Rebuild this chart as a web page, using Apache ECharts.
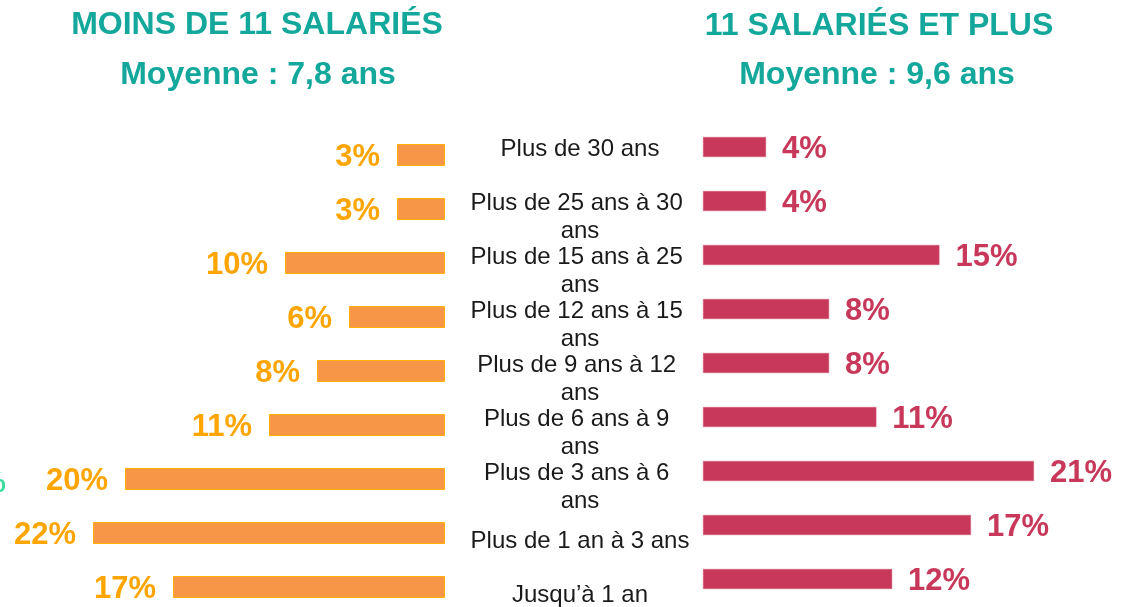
<!DOCTYPE html>
<html>
<head>
<meta charset="utf-8">
<script src="https://cdn.jsdelivr.net/npm/echarts@6/dist/echarts.min.js"></script>
<style>
  html, body { margin: 0; padding: 0; background: #fff; }
  #chart { width: 1142px; height: 607px; }
</style>
</head>
<body>
<div id="chart"></div>
<script>
// tranches d'ancienneté, du haut vers le bas
var categories = [
  "Plus de 30 ans",
  "Plus de 25 ans à 30 ans",
  "Plus de 15 ans à 25 ans",
  "Plus de 12 ans à 15 ans",
  "Plus de 9 ans à 12 ans",
  "Plus de 6 ans à 9 ans",
  "Plus de 3 ans à 6 ans",
  "Plus de 1 an à 3 ans",
  "Jusqu’à 1 an"
];
// moins de 11 salariés (%)
var petitesValues = [3, 3, 10, 6, 8, 11, 20, 22, 17];
// 11 salariés et plus (%)
var grandesValues = [4, 4, 15, 8, 8, 11, 21, 17, 12];

var titresGauche = ["MOINS DE 11 SALARIÉS", "Moyenne : 7,8 ans"];
var titresDroite = ["11 SALARIÉS ET PLUS", "Moyenne : 9,6 ans"];

var FONT = '"Liberation Sans", Arial, sans-serif';
var TEAL = "#14A79B";

var chart = echarts.init(document.getElementById("chart"));

// libellés du centre : le premier est remonté comme dans l'original
var labelData = categories.map(function (c, i) {
  if (i === 0) {
    return { value: c, textStyle: { verticalAlign: "bottom", align: "center" } };
  }
  return c;
});

function titre(text, x, y) {
  return {
    type: "text",
    x: x,
    y: y,
    style: {
      text: text,
      align: "center",
      verticalAlign: "middle",
      fill: TEAL,
      fontSize: 32,
      fontWeight: "bold",
      fontFamily: FONT
    }
  };
}

var option = {
  backgroundColor: "#fff",
  animation: false,
  graphic: [
    titre(titresGauche[0], 257, 25),
    titre(titresGauche[1], 258, 75),
    titre(titresDroite[0], 879, 26),
    titre(titresDroite[1], 877, 75),
    {
      type: "text",
      x: 6,
      y: 484,
      style: {
        text: "%",
        align: "right",
        verticalAlign: "middle",
        fill: "#3DDC9C",
        fontSize: 30,
        fontWeight: "bold",
        fontFamily: FONT
      }
    }
  ],
  grid: [
    { left: 45, right: 697, top: 128, height: 486, outerBoundsMode: "none" },
    { left: 703, right: 45, top: 120, height: 486, outerBoundsMode: "none" },
    { left: 580, right: 561, top: 136, height: 486, outerBoundsMode: "none" }
  ],
  xAxis: [
    { gridIndex: 0, type: "value", min: 0, max: 25, inverse: true, show: false },
    { gridIndex: 1, type: "value", min: 0, max: 25, show: false },
    { gridIndex: 2, type: "value", min: 0, max: 1, show: false }
  ],
  yAxis: [
    { gridIndex: 0, type: "category", data: categories, inverse: true, show: false },
    { gridIndex: 1, type: "category", data: categories, inverse: true, show: false },
    {
      gridIndex: 2,
      type: "category",
      data: labelData,
      inverse: true,
      axisLine: { show: false },
      axisTick: { show: false },
      splitLine: { show: false },
      axisLabel: {
        interval: 0,
        margin: 0,
        align: "center",
        width: 230,
        overflow: "break",
        lineHeight: 28,
        fontSize: 24,
        color: "#1a1a1a",
        fontFamily: FONT
      }
    }
  ],
  series: [
    {
      name: "Moins de 11 salariés",
      type: "bar",
      xAxisIndex: 0,
      yAxisIndex: 0,
      data: petitesValues,
      barWidth: 22,
      itemStyle: { color: "#F79646", borderColor: "#FFB000", borderWidth: 1 },
      label: {
        show: true,
        position: "left",
        distance: 17,
        offset: [0, 2],
        formatter: "{c}%",
        color: "#FFA500",
        fontSize: 31,
        fontWeight: "bold",
        fontFamily: FONT
      }
    },
    {
      name: "11 salariés et plus",
      type: "bar",
      xAxisIndex: 1,
      yAxisIndex: 1,
      data: grandesValues,
      barWidth: 20,
      itemStyle: { color: "#C8385A", borderColor: "#D45C78", borderWidth: 0.5 },
      label: {
        show: true,
        position: "right",
        distance: 16,
        offset: [0, 2],
        formatter: "{c}%",
        color: "#C8385A",
        fontSize: 31,
        fontWeight: "bold",
        fontFamily: FONT
      }
    }
  ]
};

chart.setOption(option);
</script>
</body>
</html>
